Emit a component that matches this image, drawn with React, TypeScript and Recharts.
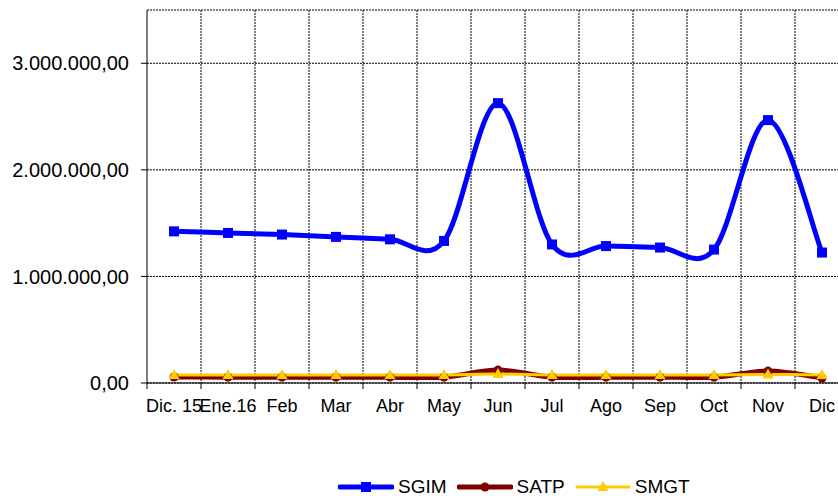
import React from 'react';
import { LineChart, Line, XAxis, YAxis, CartesianGrid, Legend } from 'recharts';

const months = ['Dic. 15', 'Ene.16', 'Feb', 'Mar', 'Abr', 'May', 'Jun', 'Jul', 'Ago', 'Sep', 'Oct', 'Nov', 'Dic'];
const sgim = [1423000, 1408000, 1393000, 1371000, 1348000, 1333000, 2626000, 1300000, 1285000, 1271000, 1252000, 2467000, 1224000];
const satp = [56000, 55000, 55000, 55000, 55000, 55000, 121000, 55000, 55000, 55000, 55000, 112000, 47000];
const smgt = [76000, 76000, 76000, 76000, 76000, 76000, 84000, 76000, 76000, 76000, 76000, 80000, 76000];
const yTicks = [0, 1000000, 2000000, 3000000];

const FONT = '"Liberation Sans", Arial, sans-serif';
const HALF_BAND = 27;

const data = months.map((m, i) => ({ month: m, SGIM: sgim[i], SATP: satp[i], SMGT: smgt[i] }));

// excel-like smooth line (catmull-rom through every point)
const smoothCurve = (context: any) => {
  let pts: number[][] = [];
  return {
    areaStart() {},
    areaEnd() {},
    lineStart() { pts = []; },
    point(x: number, y: number) { pts.push([+x, +y]); },
    lineEnd() {
      if (!pts.length) return;
      context.moveTo(pts[0][0], pts[0][1]);
      for (let i = 0; i < pts.length - 1; i++) {
        const p0 = pts[i - 1] || pts[i];
        const p1 = pts[i];
        const p2 = pts[i + 1];
        const p3 = pts[i + 2] || p2;
        context.bezierCurveTo(
          p1[0] + (p2[0] - p0[0]) / 6, p1[1] + (p2[1] - p0[1]) / 6,
          p2[0] - (p3[0] - p1[0]) / 6, p2[1] - (p3[1] - p1[1]) / 6,
          p2[0], p2[1]
        );
      }
    },
  };
};

const fmt = (n: number) => {
  const [i, d] = n.toFixed(2).split('.');
  return i.replace(/\B(?=(\d{3})+(?!\d))/g, '.') + ',' + d;
};

const SquareDot = (p: any) => (
  <rect key={`sq-${p.index}`} x={p.cx - 5} y={p.cy - 5} width={10} height={10} fill="#0000FF" />
);
const CircleDot = (p: any) => (
  <circle key={`ci-${p.index}`} cx={p.cx} cy={p.cy} r={4.5} fill="#800000" />
);
const TriDot = (p: any) => (
  <polygon key={`tr-${p.index}`} points={`${p.cx},${p.cy - 6} ${p.cx + 5.5},${p.cy + 4} ${p.cx - 5.5},${p.cy + 4}`} fill="#FFCC00" />
);

const XTick = (p: any) => (
  <g>
    <line x1={p.x - HALF_BAND} x2={p.x - HALF_BAND} y1={p.y - 6} y2={p.y} stroke="#000" />
    {p.index === months.length - 1 && (
      <line x1={p.x + HALF_BAND} x2={p.x + HALF_BAND} y1={p.y - 6} y2={p.y} stroke="#000" />
    )}
    <text x={p.x} y={p.y + 23} textAnchor="middle" fontSize={18} fontFamily={FONT} fill="#000">
      {p.payload.value}
    </text>
  </g>
);

// vertical grid lines sit between the categories
const gridX = ({ offset }: any) => {
  if (!offset) return [];
  const band = offset.width / months.length;
  return months.slice(1).map((_, i) => offset.left + band * (i + 1));
};

const legendItems = [
  { name: 'SGIM', color: '#0000FF', width: 5, dot: 'square' },
  { name: 'SATP', color: '#800000', width: 5, dot: 'circle' },
  { name: 'SMGT', color: '#FFCC00', width: 3, dot: 'triangle' },
];

const LegendContent = () => (
  <div style={{ display: 'flex', alignItems: 'center', fontFamily: FONT, fontSize: 19, color: '#000' }}>
    {legendItems.map(it => (
      <div key={it.name} style={{ display: 'flex', alignItems: 'center', marginRight: 10 }}>
        <svg width={56} height={20}>
          <line x1={2} x2={54} y1={10} y2={10} stroke={it.color} strokeWidth={it.width} strokeLinecap="round" />
          {it.dot === 'square' && <rect x={23} y={5} width={10} height={10} fill={it.color} />}
          {it.dot === 'circle' && <circle cx={28} cy={10} r={4.5} fill={it.color} />}
          {it.dot === 'triangle' && <polygon points="28,4 33.5,14 22.5,14" fill={it.color} />}
        </svg>
        <span style={{ marginLeft: 4 }}>{it.name}</span>
      </div>
    ))}
  </div>
);

export default function App() {
  return (
    <div style={{ position: 'absolute', left: 0, top: 0, width: 838, height: 496, overflow: 'hidden', background: '#fff' }}>
      <LineChart width={850} height={496} data={data} margin={{ top: 10, right: 1, left: 0, bottom: 0 }}>
        <CartesianGrid
          stroke="#000"
          strokeDasharray="2 1"
          verticalCoordinatesGenerator={gridX}
        />
        <XAxis
          dataKey="month"
          interval={0}
          height={113}
          padding={{ left: HALF_BAND, right: HALF_BAND }}
          tickSize={6}
          tickMargin={0}
          tickLine={false}
          axisLine={{ stroke: '#000' }}
          tick={<XTick />}
        />
        <YAxis
          width={147}
          domain={[0, 3500000]}
          ticks={yTicks}
          tickFormatter={fmt}
          tickSize={6}
          tickMargin={12}
          axisLine={{ stroke: '#000' }}
          tickLine={{ stroke: '#000' }}
          tick={{ fill: '#000', fontSize: 20, fontFamily: FONT }}
          allowDataOverflow
        />
        <Legend
          verticalAlign="middle"
          align="center"
          layout="horizontal"
          wrapperStyle={{ left: 338, top: 476, width: 420 }}
          content={<LegendContent />}
        />
        <Line dataKey="SGIM" type={smoothCurve as any} stroke="#0000FF" strokeWidth={5} dot={SquareDot} activeDot={false} isAnimationActive={false} />
        <Line dataKey="SATP" type={smoothCurve as any} stroke="#800000" strokeWidth={5} dot={CircleDot} activeDot={false} isAnimationActive={false} />
        <Line dataKey="SMGT" type={smoothCurve as any} stroke="#FFCC00" strokeWidth={3} dot={TriDot} activeDot={false} isAnimationActive={false} />
      </LineChart>
    </div>
  );
}
